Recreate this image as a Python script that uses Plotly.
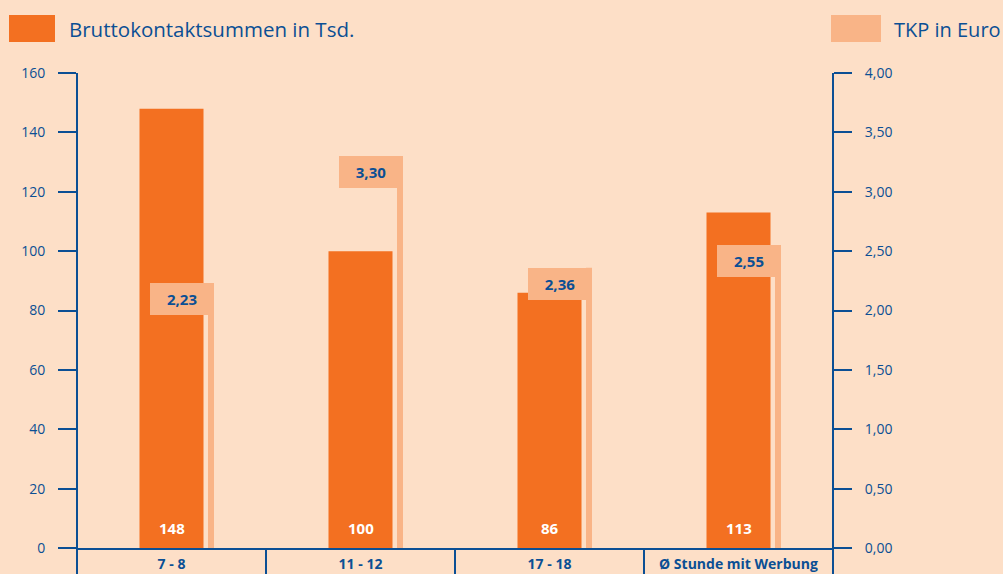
import plotly.graph_objects as go

categories = ["7 - 8", "11 - 12", "17 - 18", "Ø Stunde mit Werbung"]
brutto = [148, 100, 86, 113]
tkp = [2.23, 3.30, 2.36, 2.55]
left_ticks = [0, 20, 40, 60, 80, 100, 120, 140, 160]
right_ticks = [0, 0.5, 1.0, 1.5, 2.0, 2.5, 3.0, 3.5, 4.0]

BG = "#FDDFC7"
ORANGE = "#F37021"
LIGHT = "#F9B487"
BLUE = "#0B4F94"
FONT = "Open Sans"

W, H = 1003, 574
L, R, T, B = 77, 170, 73, 26
PW, PH = W - L - R, H - T - B

def px(x):
    return (x - L) / PW

def py(y):
    return (H - B - y) / PH

idx = list(range(len(categories)))

fig = go.Figure()
fig.add_trace(go.Bar(x=idx, y=brutto, width=64 / 189, offset=-32 / 189,
                     marker=dict(color=ORANGE, line=dict(width=0)),
                     hoverinfo="skip", showlegend=False))
fig.add_trace(go.Bar(x=idx, y=tkp, yaxis="y2", width=6 / 189, offset=36.5 / 189,
                     marker=dict(color=LIGHT, line=dict(width=0)),
                     hoverinfo="skip", showlegend=False))

annotations = []
for i, v in enumerate(brutto):
    annotations.append(dict(x=i, y=0, xref="x", yref="y", yanchor="middle",
                            yshift=20, text=f"<b>{v}</b>", showarrow=False,
                            font=dict(family=FONT, size=15, color="white")))
for i, v in enumerate(tkp):
    annotations.append(dict(x=i, y=v, xref="x", yref="y2", yanchor="top",
                            xshift=10.5, text=f"<b>{v:.2f}</b>".replace(".", ","),
                            showarrow=False, bgcolor=LIGHT, width=64, height=32,
                            borderpad=0, borderwidth=0, valign="middle",
                            font=dict(family=FONT, size=15, color=BLUE)))

# legend texts
annotations.append(dict(x=px(67), y=py(29), xref="paper", yref="paper",
                        xanchor="left", yanchor="middle", showarrow=False,
                        text="Bruttokontaktsummen in Tsd.",
                        font=dict(family=FONT, size=20.5, color=BLUE)))
annotations.append(dict(x=px(892), y=py(29), xref="paper", yref="paper",
                        xanchor="left", yanchor="middle", showarrow=False,
                        text="TKP in Euro",
                        font=dict(family=FONT, size=20, color=BLUE)))

shapes = [
    dict(type="rect", xref="paper", yref="paper", x0=px(9), x1=px(55),
         y0=py(42), y1=py(15), fillcolor=ORANGE, line=dict(width=0)),
    dict(type="rect", xref="paper", yref="paper", x0=px(831), x1=px(881),
         y0=py(42), y1=py(15), fillcolor=LIGHT, line=dict(width=0)),
]
n = len(categories)
for k in range(n + 1):
    top = 1 if k in (0, n) else 0
    shapes.append(dict(type="line", xref="paper", yref="paper", x0=k / n, x1=k / n,
                       y0=py(H + 2), y1=top, line=dict(color=BLUE, width=2)))

fig.update_layout(
    width=W, height=H,
    margin=dict(l=L, r=R, t=T, b=B, pad=0, autoexpand=False),
    paper_bgcolor=BG, plot_bgcolor=BG,
    barmode="overlay", separators=",.",
    showlegend=False,
    font=dict(family=FONT, color=BLUE, size=14),
    xaxis=dict(range=[-0.5, n - 0.5], tickvals=idx,
               ticktext=[f"<b>{c}</b>" for c in categories],
               showgrid=False, zeroline=False, showline=True, linecolor=BLUE,
               linewidth=2, ticks="", tickfont=dict(size=14, color=BLUE),
               ticklabelstandoff=2, fixedrange=True, automargin=False),
    yaxis=dict(range=[0, 160], tickvals=left_ticks, showgrid=False, zeroline=False,
               showline=False, ticks="outside", ticklen=18, tickwidth=2,
               tickcolor=BLUE, tickfont=dict(size=14, color=BLUE),
               ticklabelstandoff=10, automargin=False),
    yaxis2=dict(range=[0, 4], tickvals=right_ticks, tickformat=".2f",
                overlaying="y", side="right", showgrid=False, zeroline=False,
                showline=False, ticks="outside", ticklen=18, tickwidth=2,
                tickcolor=BLUE, tickfont=dict(size=14, color=BLUE),
                ticklabelstandoff=10, automargin=False),
    annotations=annotations, shapes=shapes,
)

fig.write_html("out.html", config={"displayModeBar": False},
               post_script="document.body.style.margin='0px';"
                           "document.body.style.background='" + BG + "';")
